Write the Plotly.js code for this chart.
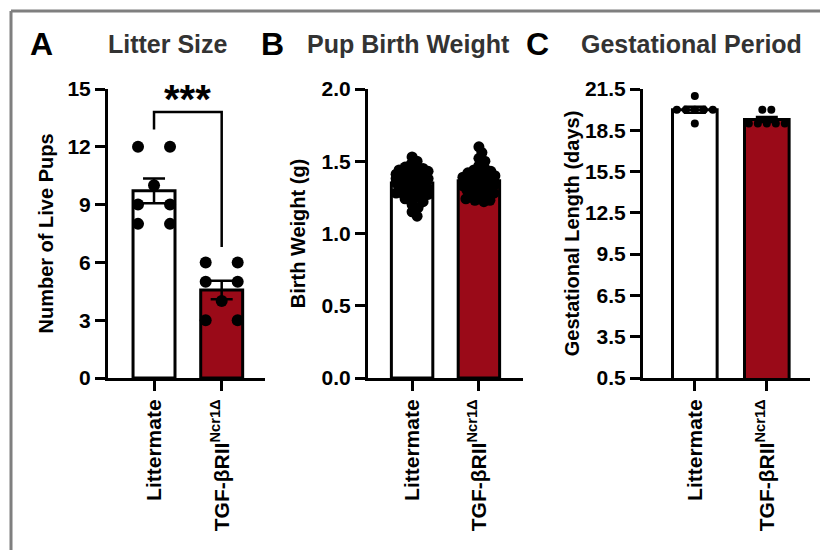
<!DOCTYPE html>
<html>
<head>
<meta charset="utf-8">
<script src="https://cdn.plot.ly/plotly-3.0.1.min.js"></script>
<style>
html,body{margin:0;padding:0;background:#fff;}
#chart{width:820px;height:550px;}
</style>
</head>
<body>
<div id="chart"></div>
<script>
// ---- data ----
const categories = ['Littermate', 'TGF-βRII<sup>Ncr1Δ</sup>'];
const litterLittermate = [12, 12, 10, 9, 9, 8, 8];
const litterTGF = [6, 6, 5, 5, 4, 3, 3];
const weightLittermate = [1.53, 1.50, 1.48, 1.46, 1.45, 1.45, 1.44, 1.43, 1.43, 1.42, 1.42, 1.41, 1.41,
  1.40, 1.40, 1.40, 1.39, 1.39, 1.38, 1.38, 1.38, 1.37, 1.37, 1.36, 1.36, 1.35, 1.35, 1.34,
  1.33, 1.33, 1.32, 1.31, 1.30, 1.30, 1.29, 1.28, 1.28, 1.27, 1.26, 1.25, 1.24, 1.22, 1.20, 1.18, 1.15, 1.12];
const weightTGF = [1.60, 1.56, 1.52, 1.50, 1.47, 1.45, 1.44, 1.43, 1.42, 1.42, 1.41, 1.40, 1.40, 1.39, 1.39,
  1.38, 1.38, 1.38, 1.37, 1.37, 1.37, 1.36, 1.36, 1.36, 1.35, 1.35, 1.35, 1.34, 1.34, 1.33, 1.33,
  1.32, 1.32, 1.31, 1.30, 1.29, 1.28, 1.27, 1.26, 1.25, 1.24, 1.23, 1.23, 1.22];
const gestLittermate = [21, 20, 20, 20, 20, 20, 19];
const gestTGF = [20, 20, 19, 19, 19, 19, 19];
const yTicksA = [0, 3, 6, 9, 12, 15];
const yTicksB = [0, 0.5, 1.0, 1.5, 2.0];
const yTicksC = [0.5, 3.5, 6.5, 9.5, 12.5, 15.5, 18.5, 21.5];
const panelTitles = ['Litter Size', 'Pup Birth Weight', 'Gestational Period'];
const panelLetters = ['A', 'B', 'C'];
const yTitles = ['Number of Live Pups', 'Birth Weight (g)', 'Gestational Length (days)'];
const significance = '***';

// ---- helpers ----
const mean = a => a.reduce((s, v) => s + v, 0) / a.length;
const sem = a => { const m = mean(a); const sd = Math.sqrt(a.reduce((s, v) => s + (v - m) ** 2, 0) / (a.length - 1)); return sd / Math.sqrt(a.length); };

const W = 820, H = 550;
const RED = '#9a0a18';
const yTopPx = 89, yBotPx = 378;
const TICKFONT = {size: 21, weight: 700, color: '#000'};
const panels = [
  {px: [108, 265], xr: [-0.68, 1.64], yr: [0, 15], ticks: yTicksA, fmt: v => String(v), data: [litterLittermate, litterTGF], msize: 12, mode: 'rows', spacing: 32, standoff: 9},
  {px: [368, 523], xr: [-0.66, 1.66], yr: [0, 2], ticks: yTicksB, fmt: v => v.toFixed(1), data: [weightLittermate, weightTGF], msize: 11, mode: 'swarm', standoff: 11},
  {px: [643, 810], xr: [-0.72, 1.60], yr: [0.5, 21.5], ticks: yTicksC, fmt: v => v.toFixed(1), data: [gestLittermate, gestTGF], msize: 8, mode: 'rows', spacing: 9, standoff: 0}
];

function rowOffsets(vals, spacingPx, xScale) {
  const groups = {};
  vals.forEach((v, i) => { (groups[v] = groups[v] || []).push(i); });
  const offs = new Array(vals.length).fill(0);
  Object.values(groups).forEach(idx => {
    idx.forEach((i, k) => { offs[i] = (k - (idx.length - 1) / 2) * spacingPx / xScale; });
  });
  return offs;
}
function swarmOffsets(vals, yScale, xScale, minDist, maxHalf) {
  const placed = [];
  const offs = [];
  vals.forEach(v => {
    const ypx = v * yScale;
    let best = 0, bestD = -1;
    for (let k = 0; k <= maxHalf * 2; k++) {
      const off = k % 2 ? Math.ceil(k / 2) : -k / 2;
      let md = Infinity;
      placed.forEach(p => { const d = Math.hypot(p[0] - off, p[1] - ypx); if (d < md) md = d; });
      if (md >= minDist) { best = off; bestD = md; break; }
      if (md > bestD) { bestD = md; best = off; }
    }
    placed.push([best, ypx]);
    offs.push(best / xScale);
  });
  return offs;
}

const traces = [];
const layout = {
  width: W, height: H,
  margin: {l: 0, r: 0, t: 0, b: 0},
  paper_bgcolor: '#fff', plot_bgcolor: 'rgba(0,0,0,0)',
  showlegend: false,
  font: {family: 'Liberation Sans, Arial, sans-serif', color: '#000'},
  annotations: [], shapes: []
};

panels.forEach((p, i) => {
  const xa = i === 0 ? 'x' : 'x' + (i + 1);
  const ya = i === 0 ? 'y' : 'y' + (i + 1);
  const xKey = i === 0 ? 'xaxis' : 'xaxis' + (i + 1);
  const yKey = i === 0 ? 'yaxis' : 'yaxis' + (i + 1);
  const xScale = (p.px[1] - p.px[0]) / (p.xr[1] - p.xr[0]);
  const yScale = (yBotPx - yTopPx) / (p.yr[1] - p.yr[0]);

  traces.push({
    type: 'bar', x: [0, 1], y: p.data.map(mean), xaxis: xa, yaxis: ya, width: 0.62,
    marker: {color: ['#ffffff', RED], line: {color: '#000', width: 3}},
    error_y: {type: 'data', array: p.data.map(sem), visible: true, color: '#000', thickness: 2.5, width: 11},
    hoverinfo: 'skip'
  });
  p.data.forEach((vals, c) => {
    const offs = p.mode === 'rows' ? rowOffsets(vals, p.spacing, xScale)
      : swarmOffsets(vals, yScale, xScale, 6.5, 16);
    traces.push({
      type: 'scatter', mode: 'markers', xaxis: xa, yaxis: ya,
      x: offs.map(o => c + o), y: vals,
      marker: {color: '#000', size: p.msize, line: {width: 0}},
      cliponaxis: false, hoverinfo: 'skip'
    });
  });

  layout[xKey] = {
    domain: [p.px[0] / W, p.px[1] / W], range: p.xr, anchor: ya,
    tickmode: 'array', tickvals: [0, 1], ticktext: categories, tickangle: -90,
    showline: true, linecolor: '#000', linewidth: 3,
    ticks: 'outside', ticklen: 10, tickwidth: 3, tickcolor: '#000',
    tickfont: TICKFONT,
    showgrid: false, zeroline: false, fixedrange: true
  };
  layout[yKey] = {
    domain: [1 - yBotPx / H, 1 - yTopPx / H], range: p.yr, anchor: xa,
    tickmode: 'array', tickvals: p.ticks, ticktext: p.ticks.map(p.fmt),
    showline: true, linecolor: '#000', linewidth: 3,
    ticks: 'outside', ticklen: 10, tickwidth: 3, tickcolor: '#000',
    tickfont: TICKFONT,
    showgrid: false, zeroline: false, fixedrange: true,
    title: {text: yTitles[i], font: {size: 20, weight: 700, color: '#000'}, standoff: p.standoff}
  };
});

// panel titles and letters
const titleCenters = [168, 408, 691];
const letterX = [41, 272, 537];
panelTitles.forEach((t, i) => {
  layout.annotations.push({xref: 'paper', yref: 'paper', x: titleCenters[i] / W, y: 1 - 44 / H, text: t,
    showarrow: false, xanchor: 'center', yanchor: 'middle', font: {size: 25, weight: 700, color: '#333'}});
  layout.annotations.push({xref: 'paper', yref: 'paper', x: letterX[i] / W, y: 1 - 44 / H, text: panelLetters[i],
    showarrow: false, xanchor: 'center', yanchor: 'middle', font: {size: 32, weight: 700, color: '#000'}});
});

// significance bracket on panel A
const lMax = Math.max(...litterLittermate), tMax = Math.max(...litterTGF);
const brTop = 13.8;
layout.shapes.push({type: 'path', xref: 'x', yref: 'y',
  path: `M 0 ${lMax + 0.9} L 0 ${brTop} L 1 ${brTop} L 1 ${tMax + 0.8}`,
  line: {color: '#000', width: 2.5}});
layout.annotations.push({xref: 'x', yref: 'y', x: 0.5, y: brTop + 0.7, text: significance, showarrow: false,
  yanchor: 'middle', font: {size: 40, weight: 700, color: '#000'}});

// grey frame lines
layout.shapes.push({type: 'line', xref: 'paper', yref: 'paper', x0: 11 / W, x1: 11 / W, y0: 0, y1: 1 - 11 / H, line: {color: '#7f7f7f', width: 3}});
layout.shapes.push({type: 'line', xref: 'paper', yref: 'paper', x0: 11 / W, x1: 1, y0: 1 - 11 / H, y1: 1 - 11 / H, line: {color: '#7f7f7f', width: 3}});

Plotly.newPlot('chart', traces, layout, {staticPlot: true, displayModeBar: false});
</script>
</body>
</html>
